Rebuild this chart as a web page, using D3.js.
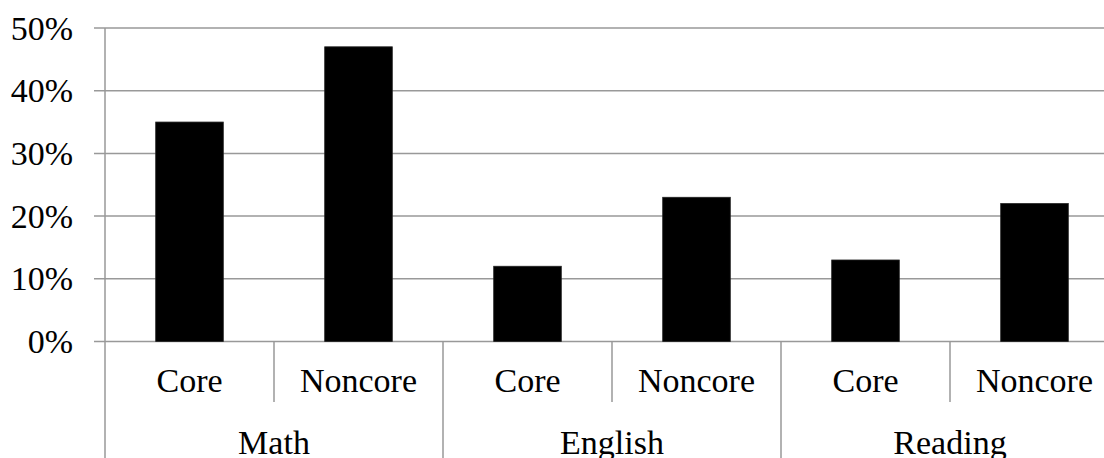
<!DOCTYPE html>
<html><head><meta charset="utf-8">
<script src="https://cdn.jsdelivr.net/npm/d3@7"></script>
<style>body{margin:0;background:#fff}svg{display:block}</style>
</head><body>
<svg id="c" width="1104" height="458"></svg>
<script>
const groups = ["Math", "English", "Reading"];
const subs = ["Core", "Noncore"];
const values = [35, 47, 12, 23, 13, 22];
const yTicks = [0, 10, 20, 30, 40, 50];

(function () {
const svg = d3.select("#c");
const pLeft = 105, pTop = 28, pBottom = 341.5, step = 169;
const cats = [];
groups.forEach(g => subs.forEach(s => cats.push(g + "|" + s)));
const x = d3.scaleBand().domain(cats).range([pLeft, pLeft + step * cats.length]).paddingInner(0.6).paddingOuter(0.3);
const xs = d3.scaleBand().domain(cats).range([pLeft, pLeft + step * cats.length]);
const y = d3.scaleLinear().domain([0, 50]).range([pBottom, pTop]);
const grid = "#999";
const fs = 34;
const ff = '"Liberation Serif", "Times New Roman", serif';

svg.append("g").selectAll("line").data(yTicks).join("line")
  .attr("x1", pLeft - 11).attr("x2", 1104)
  .attr("y1", d => y(d)).attr("y2", d => y(d))
  .attr("stroke", grid).attr("stroke-width", 1.5);
svg.append("g").selectAll("text").data(yTicks).join("text")
  .attr("x", 73).attr("y", d => y(d)).attr("dy", "0.34em")
  .attr("text-anchor", "end").style("font-size", fs + "px").style("font-family", ff)
  .text(d => d + "%");
svg.append("line").attr("x1", pLeft).attr("x2", pLeft).attr("y1", pTop).attr("y2", 458)
  .attr("stroke", grid).attr("stroke-width", 1.5);

svg.append("g").selectAll("rect").data(values).join("rect")
  .attr("x", (d, i) => x(cats[i])).attr("width", x.bandwidth())
  .attr("y", d => y(d)).attr("height", d => y(0) - y(d))
  .attr("fill", "#000").attr("stroke", "#222").attr("stroke-width", 0.8);

cats.forEach((c, i) => {
  if (i === 0) return;
  const xx = xs(c);
  const isGroup = i % subs.length === 0;
  svg.append("line").attr("x1", xx).attr("x2", xx).attr("y1", pBottom).attr("y2", isGroup ? 458 : 402)
    .attr("stroke", grid).attr("stroke-width", 1.5);
});

svg.append("g").selectAll("text").data(cats).join("text")
  .attr("x", c => xs(c) + xs.bandwidth() / 2).attr("y", 392)
  .attr("text-anchor", "middle").style("font-size", fs + "px").style("font-family", ff)
  .text(c => c.split("|")[1]);
svg.append("g").selectAll("text").data(groups).join("text")
  .attr("x", g => xs(g + "|" + subs[0]) + xs.bandwidth() * subs.length / 2).attr("y", 454)
  .attr("text-anchor", "middle").style("font-size", fs + "px").style("font-family", ff)
  .text(g => g);
})();
</script>
</body></html>
